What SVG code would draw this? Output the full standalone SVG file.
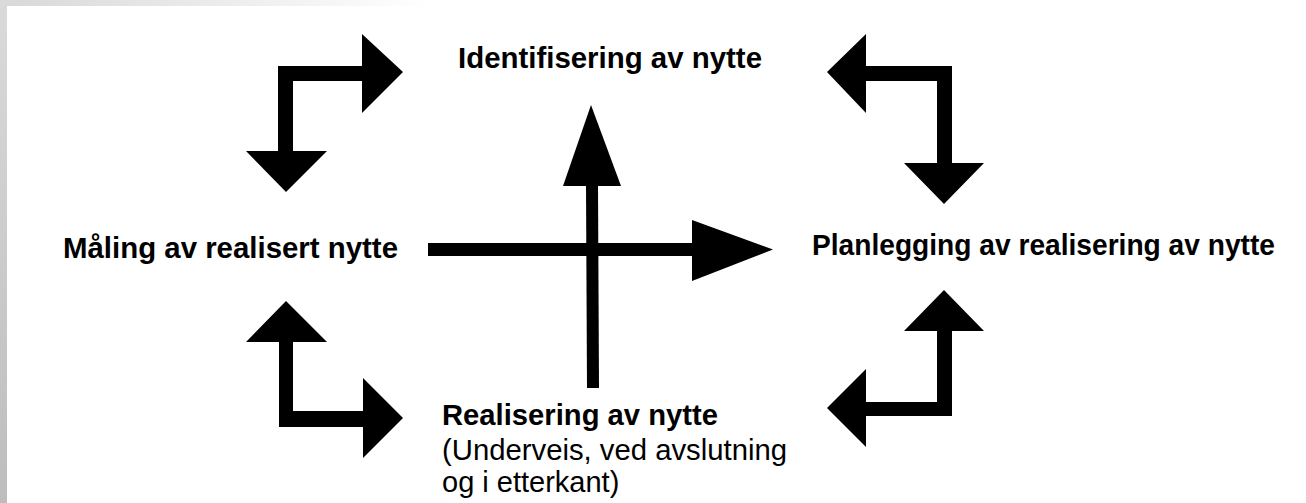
<svg xmlns="http://www.w3.org/2000/svg" width="1306" height="503" viewBox="0 0 1306 503">
  <defs>
    <linearGradient id="gTop" x1="0" y1="0" x2="1" y2="0">
      <stop offset="0" stop-color="#d8d8d8"/>
      <stop offset="1" stop-color="#ffffff"/>
    </linearGradient>
    <linearGradient id="gLeft" x1="0" y1="0" x2="0" y2="1">
      <stop offset="0" stop-color="#dadada"/>
      <stop offset="1" stop-color="#bdbdbd"/>
    </linearGradient>
  </defs>
  <style>
    .b { font-family: "Liberation Sans", Arial, Helvetica, sans-serif; font-weight: bold; font-size: 29px; fill: #000; }
    .r { font-family: "Liberation Sans", Arial, Helvetica, sans-serif; font-size: 29px; fill: #000; }
    .arr { fill: #000; stroke: none; }
    .shaft { stroke: #000; fill: none; }
  </style>
  <rect x="0" y="0" width="1306" height="503" fill="#ffffff"/>
  <rect x="0" y="0" width="430" height="6" fill="url(#gTop)"/>
  <rect x="0" y="0" width="7" height="503" fill="url(#gLeft)"/>

  <g id="connectors">
    <polygon class="arr" points="286,192 327,151 293,151 293,81 362,81 362,113 403,72 362,34 362,66 278,66 278,151 246,151"/>
    <polygon class="arr" points="827,72 866,34 866,66 952,66 952,163 984,163 944,204 904,163 937,163 937,81 866,81 866,113"/>
    <polygon class="arr" points="286,301 327,342 293,342 293,411 363,411 363,378 403,418 363,458 363,427 279,427 279,342 246,342"/>
    <polygon class="arr" points="944,290 984,331 952,331 952,416 866,416 866,447 827,408 866,369 866,402 937,402 937,331 904,331"/>
    <line class="shaft" x1="428" y1="249.5" x2="694" y2="249.5" stroke-width="13"/>
    <polygon class="arr" points="692,220 773,249.5 692,281"/>
    <line class="shaft" x1="593" y1="388" x2="592" y2="184" stroke-width="12"/>
    <polygon class="arr" points="563,186 591,105 621,186"/>
  </g>

  <g id="node-identifisering">
    <text class="b" x="458" y="68" textLength="304" lengthAdjust="spacingAndGlyphs">Identifisering av nytte</text>
  </g>
  <g id="node-maaling">
    <text class="b" x="63" y="258" textLength="335" lengthAdjust="spacingAndGlyphs">Måling av realisert nytte</text>
  </g>
  <g id="node-planlegging">
    <text class="b" x="812" y="255" textLength="463" lengthAdjust="spacingAndGlyphs">Planlegging av realisering av nytte</text>
  </g>
  <g id="node-realisering">
    <text class="b" x="442" y="425" textLength="276" lengthAdjust="spacingAndGlyphs">Realisering av nytte</text>
    <text class="r" x="442" y="460" textLength="345" lengthAdjust="spacingAndGlyphs">(Underveis, ved avslutning</text>
    <text class="r" x="442" y="492">og i etterkant)</text>
  </g>
</svg>
